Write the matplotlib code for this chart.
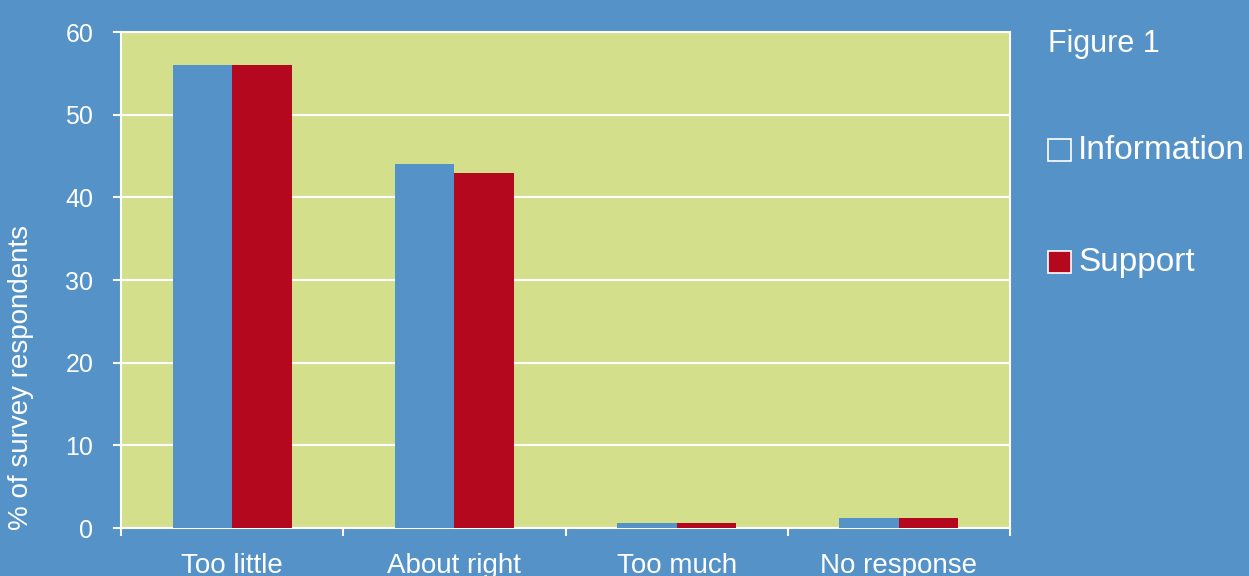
import matplotlib.pyplot as plt
import numpy as np

plt.rcParams['font.family'] = ['Liberation Sans', 'DejaVu Sans']

categories = ['Too little', 'About right', 'Too much', 'No response']
information = [56, 44, 0.6, 1.2]
support = [56, 43, 0.6, 1.2]
y_ticks = [0, 10, 20, 30, 40, 50, 60]

bg_blue = '#5592c7'
plot_green = '#d4df8c'
red = '#b3081d'

fig = plt.figure(figsize=(12.49, 5.76), dpi=100, facecolor=bg_blue)
ax = fig.add_axes([121 / 1249, 48 / 576, 889 / 1249, 496 / 576])
ax.set_facecolor(plot_green)

x = np.arange(len(categories))
w = 0.268
ax.bar(x - w / 2, information, w, color=bg_blue, zorder=3, label='Information')
ax.bar(x + w / 2, support, w, color=red, zorder=3, label='Support')

ax.set_xlim(-0.5, 3.5)
ax.set_ylim(0, 60)
ax.set_yticks(y_ticks)
ax.grid(axis='y', color='white', linewidth=1.5, zorder=1)

# category boundaries as major ticks, labels on minor ticks
ax.set_xticks(np.arange(-0.5, 4, 1))
ax.set_xticklabels([])
ax.set_xticks(x, minor=True)
ax.set_xticklabels(categories, minor=True)

ax.tick_params(axis='y', colors='white', labelsize=18, length=6, width=1.5, pad=14)
ax.tick_params(axis='x', which='major', colors='white', length=6, width=1.5, direction='out')
ax.tick_params(axis='x', which='minor', colors='white', labelsize=20, length=0, pad=18)

for side in ['left', 'right', 'top', 'bottom']:
    ax.spines[side].set_color('white')
    ax.spines[side].set_linewidth(1.5)

fig.text(21 / 1249, 1 - 377 / 576, '% of survey respondents', rotation=90,
         color='white', fontsize=20, ha='center', va='center')

fig.text(1048 / 1249, 1 - 44 / 576, 'Figure 1', color='white', fontsize=22,
         ha='left', va='center')

# legend drawn by hand to match the boxed layout
for label, face, ycen in [('Information', bg_blue, 150), ('Support', red, 262)]:
    box = plt.Rectangle((1048 / 1249, 1 - (ycen + 11) / 576), 23 / 1249, 22 / 576,
                        transform=fig.transFigure, facecolor=face,
                        edgecolor='white', linewidth=1.2)
    fig.add_artist(box)
    fig.text(1078 / 1249, 1 - ycen / 576, label, color='white', fontsize=24,
             ha='left', va='center')

fig.savefig('out.png', dpi=100, facecolor=bg_blue)
